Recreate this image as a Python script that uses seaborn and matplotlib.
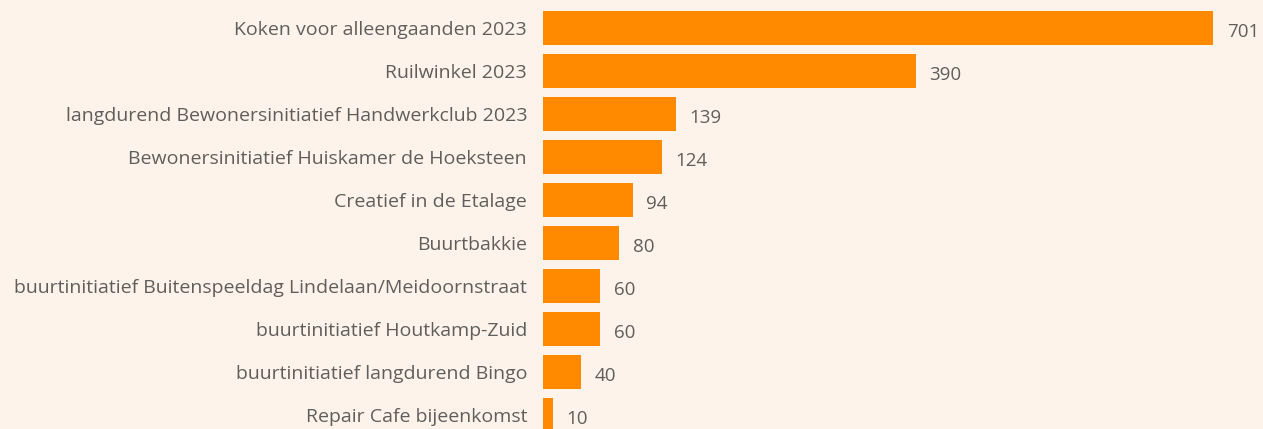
import matplotlib
matplotlib.use("Agg")
import matplotlib.pyplot as plt
import seaborn as sns
import pandas as pd

categories = [
    "Koken voor alleengaanden 2023",
    "Ruilwinkel 2023",
    "langdurend Bewonersinitiatief Handwerkclub 2023",
    "Bewonersinitiatief Huiskamer de Hoeksteen",
    "Creatief in de Etalage",
    "Buurtbakkie",
    "buurtinitiatief Buitenspeeldag Lindelaan/Meidoornstraat",
    "buurtinitiatief Houtkamp-Zuid",
    "buurtinitiatief langdurend Bingo",
    "Repair Cafe bijeenkomst",
]
values = [701, 390, 139, 124, 94, 80, 60, 60, 40, 10]

bg = "#FDF3EA"
bar_color = "#FF8A00"
text_color = "#605E5C"

sns.set_theme(style="white")
plt.rcParams["font.family"] = ["Open Sans", "DejaVu Sans"]

df = pd.DataFrame({"cat": categories, "val": values})

fig = plt.figure(figsize=(12.63, 4.29), dpi=100, facecolor=bg)
ax = fig.add_axes([543 / 1263, 0, 1 - 543 / 1263, 1])
ax.set_facecolor(bg)

sns.barplot(data=df, y="cat", x="val", orient="h", color=bar_color,
            saturation=1, width=0.77, linewidth=0, ax=ax)

for i, v in enumerate(values):
    ax.text(v + 14, i + 0.1, f"{v}", va="center", ha="left",
            fontsize=13.5, color=text_color)

ax.set_xlim(0, 753)
ax.set_ylim(9.326, -0.651)
ax.set_xlabel("")
ax.set_ylabel("")
ax.set_xticks([])
ax.tick_params(axis="y", length=0, pad=11.5, labelsize=14, labelcolor=text_color)
for s in ax.spines.values():
    s.set_visible(False)

fig.savefig("out.png", dpi=100, facecolor=bg)
